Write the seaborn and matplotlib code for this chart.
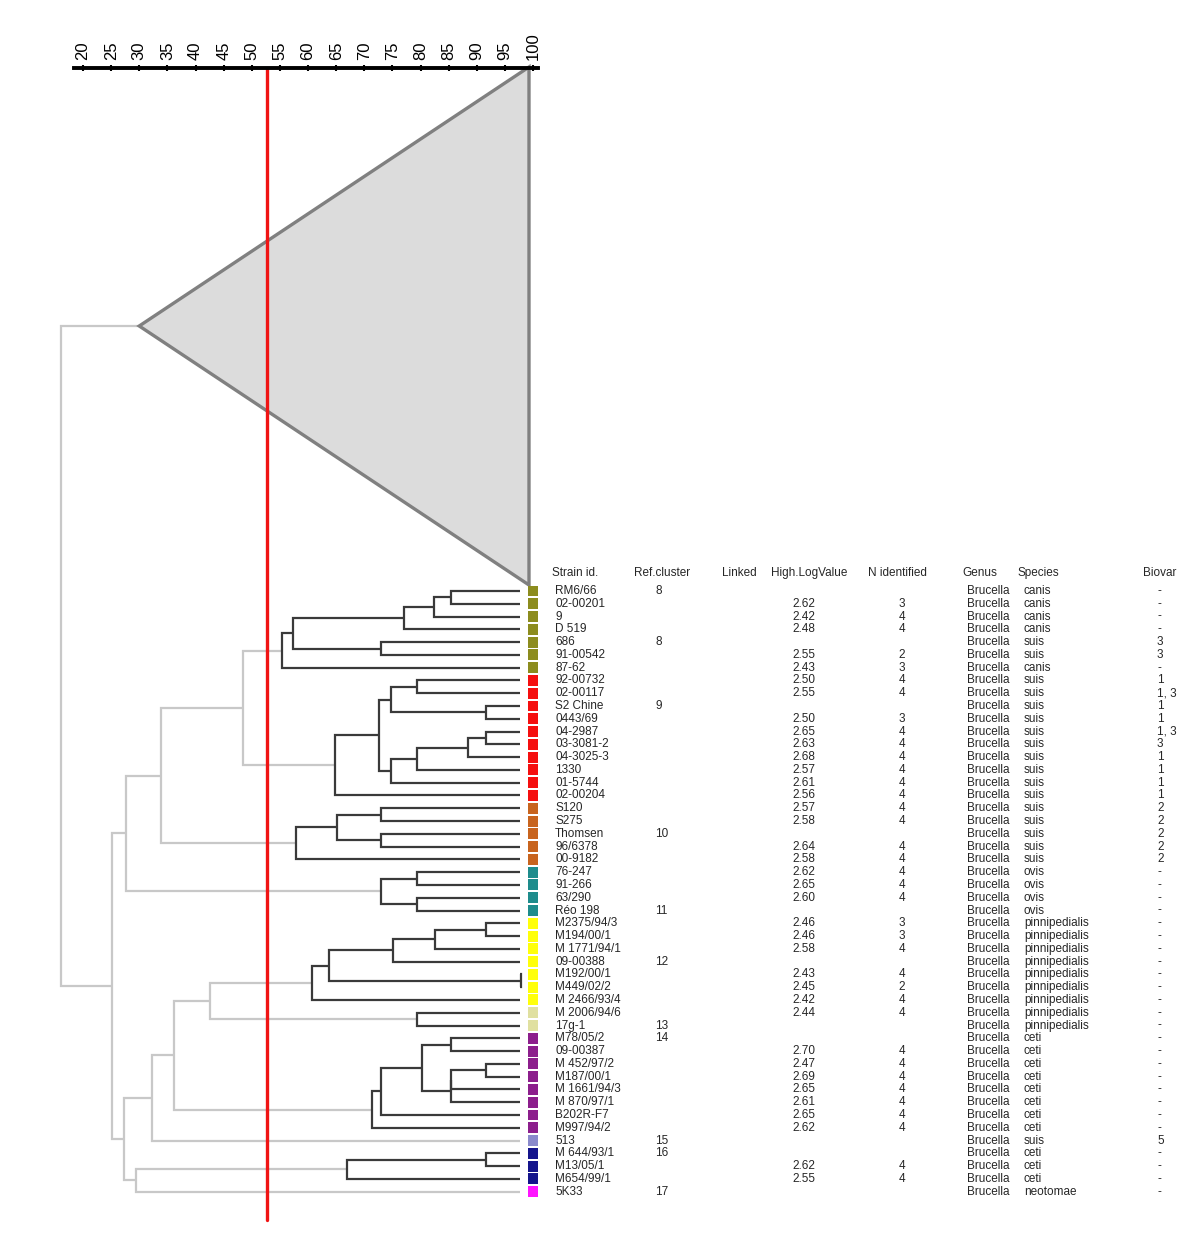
import matplotlib
matplotlib.use("Agg")
import matplotlib.pyplot as plt
import numpy as np
import pandas as pd
import seaborn as sns

# ---------------- data ----------------
strain_ids = ["RM6/66", "02-00201", "9", "D 519", "686", "91-00542", "87-62",
              "92-00732", "02-00117", "S2 Chine", "0443/69", "04-2987", "03-3081-2",
              "04-3025-3", "1330", "01-5744", "02-00204", "S120", "S275", "Thomsen",
              "96/6378", "00-9182", "76-247", "91-266", "63/290", "Réo 198",
              "M2375/94/3", "M194/00/1", "M 1771/94/1", "09-00388", "M192/00/1",
              "M449/02/2", "M 2466/93/4", "M 2006/94/6", "17g-1", "M78/05/2",
              "09-00387", "M 452/97/2", "M187/00/1", "M 1661/94/3", "M 870/97/1",
              "B202R-F7", "M997/94/2", "513", "M 644/93/1", "M13/05/1", "M654/99/1",
              "5K33"]
ref_cluster = ["8", "", "", "", "8", "", "", "", "", "9", "", "", "", "", "", "", "",
               "", "", "10", "", "", "", "", "", "11", "", "", "", "12", "", "", "",
               "", "13", "14", "", "", "", "", "", "", "", "15", "16", "", "", "17"]
high_log = ["", "2.62", "2.42", "2.48", "", "2.55", "2.43", "2.50", "2.55", "",
            "2.50", "2.65", "2.63", "2.68", "2.57", "2.61", "2.56", "2.57", "2.58", "",
            "2.64", "2.58", "2.62", "2.65", "2.60", "", "2.46", "2.46", "2.58", "",
            "2.43", "2.45", "2.42", "2.44", "", "", "2.70", "2.47", "2.69", "2.65",
            "2.61", "2.65", "2.62", "", "", "2.62", "2.55", ""]
n_identified = ["", "3", "4", "4", "", "2", "3", "4", "4", "", "3", "4", "4", "4",
                "4", "4", "4", "4", "4", "", "4", "4", "4", "4", "4", "", "3", "3",
                "4", "", "4", "2", "4", "4", "", "", "4", "4", "4", "4", "4", "4",
                "4", "", "", "4", "4", ""]
genus = ["Brucella"] * 48
species = (["canis"] * 4 + ["suis"] * 2 + ["canis"] + ["suis"] * 15 + ["ovis"] * 4
           + ["pinnipedialis"] * 9 + ["ceti"] * 8 + ["suis"] + ["ceti"] * 3 + ["neotomae"])
biovar = ["-", "-", "-", "-", "3", "3", "-", "1", "1, 3", "1", "1", "1, 3", "3", "1",
          "1", "1", "1", "2", "2", "2", "2", "2"] + ["-"] * 21 + ["5", "-", "-", "-", "-"]
leaf_group = (["g8"] * 7 + ["g9"] * 10 + ["g10"] * 5 + ["g11"] * 4 + ["g12"] * 7
              + ["g13"] * 2 + ["g14"] * 8 + ["g15"] + ["g16"] * 3 + ["g17"])
group_colors = {"g8": "#8C8C1E", "g9": "#F50F0F", "g10": "#C8641E", "g11": "#1E8C8C",
                "g12": "#FFFF0A", "g13": "#E0E0A0", "g14": "#8C1E8C", "g15": "#8A8ACC",
                "g16": "#14148C", "g17": "#FF14FF"}
headers = ["Strain id.", "Ref.cluster", "Linked", "High.LogValue", "N identified",
           "Genus", "Species", "Biovar"]

# dendrogram merges (leaf indices 0..47, internal node k -> 48 + k), similarity (%)
merge_left = [0, 48, 49, 4, 50, 52, 7, 9, 54, 11, 57, 58, 59, 56, 61, 53, 17, 19, 64, 66,
              63, 22, 24, 69, 68, 26, 73, 74, 30, 75, 77, 33, 78, 35, 37, 82, 83, 81, 85,
              86, 80, 88, 44, 90, 91, 89, 72]
merge_right = [1, 2, 3, 5, 51, 6, 8, 10, 55, 12, 13, 14, 15, 60, 16, 62, 18, 20, 65, 21,
               67, 23, 25, 70, 71, 27, 28, 29, 31, 76, 32, 34, 79, 36, 38, 39, 40, 84, 41,
               42, 87, 43, 45, 46, 47, 92, 93]
merge_sim = [85.5, 82.4, 77.0, 73.0, 57.4, 55.3, 79.3, 91.7, 74.8, 91.7, 88.5, 79.3, 74.8,
             72.6, 64.8, 48.4, 73.0, 73.0, 65.2, 57.9, 33.9, 79.3, 79.3, 73.0, 27.6, 91.7,
             82.5, 75.1, 97.8, 63.7, 60.7, 79.3, 42.6, 85.5, 91.7, 85.5, 85.5, 80.3, 73.0,
             71.3, 36.2, 32.2, 91.7, 67.0, 29.4, 27.3, 25.1]
collapsed_sim = 30.0
root_sim = 16.0
cut_sim = 52.7
scale_ticks = list(range(20, 101, 5))

# ---------------- layout ----------------
W, H = 1200, 1236
PX_PER_UNIT = 5.625
X0_PX = 83          # pixel of similarity 20
ROW1_PX = 591       # pixel of row 1
ROW_PX = 12.78


def px_x(p):
    return 20 + (p - X0_PX) / PX_PER_UNIT


def px_y(p):
    return 1 + (p - ROW1_PX) / ROW_PX


sns.set_style("white")
plt.rcParams["font.family"] = ["Liberation Sans", "DejaVu Sans"]

fig = plt.figure(figsize=(W / 100, H / 100), dpi=100)
ax = fig.add_axes([0, 0, 1, 1])
ax.set_xlim(px_x(0), px_x(W))
ax.set_ylim(px_y(H), px_y(0))
ax.axis("off")

DARK = "#3A3A3A"
GREY = "#C8C8C8"
leaf_x = 97.7
n = len(strain_ids)
ypos = {i: i + 1 for i in range(n)}
xpos = {i: leaf_x for i in range(n)}
for k, (a, b, s) in enumerate(zip(merge_left, merge_right, merge_sim)):
    node = n + k
    ypos[node] = (ypos[a] + ypos[b]) / 2
    xpos[node] = s
    dark = s > cut_sim
    ax.plot([xpos[a], s, s, xpos[b]], [ypos[a], ypos[a], ypos[b], ypos[b]],
            color=DARK if dark else GREY, lw=1.6, zorder=3 if dark else 2,
            solid_joinstyle="miter", solid_capstyle="butt")
last = n + len(merge_sim) - 1

# collapsed cluster (triangle)
tri_top, tri_bot = px_y(67), px_y(585)
tri_apex = (tri_top + tri_bot) / 2
tri_right = px_x(529)
ax.fill([collapsed_sim, tri_right, tri_right], [tri_apex, tri_top, tri_bot],
        facecolor="#DCDCDC", edgecolor="#808080", lw=2.4, joinstyle="miter", zorder=2)
ax.plot([collapsed_sim, root_sim, root_sim, xpos[last]],
        [tri_apex, tri_apex, ypos[last], ypos[last]],
        color=GREY, lw=1.6, zorder=1, solid_joinstyle="miter")

# colored squares
sq = pd.DataFrame({"x": [100.0] * n, "y": [i + 1 for i in range(n)], "g": leaf_group})
sns.scatterplot(data=sq, x="x", y="y", hue="g", palette=group_colors, marker="s",
                s=62, linewidth=0, legend=False, ax=ax, zorder=4)

# cut-off line
ax.plot([cut_sim, cut_sim], [px_y(68), px_y(1220)], color="#F01414", lw=2.4, zorder=5)

# table
FS = 8.5
head_px = [552, 634, 722, 771, 868, 962, 1018, 1143]
for h, p in zip(headers, head_px):
    ax.text(px_x(p), px_y(573), h, fontsize=FS, ha="left", va="center")
cols = [(strain_ids, 555, "left"), (ref_cluster, 655, "left"), (high_log, 792, "left"),
        (n_identified, 902, "center"), (genus, 967, "left"), (species, 1024, "left"),
        (biovar, 1157, "left")]
for vals, p, ha in cols:
    for i, v in enumerate(vals):
        if v:
            ax.text(px_x(p), i + 1, v, fontsize=FS, ha=ha, va="center")

# similarity scale
sax = fig.add_axes([74 / W, 1 - 68 / H, 464 / W, 1e-5])
sax.set_xlim(px_x(74), px_x(538))
sax.set_ylim(0, 1)
for sp in ["left", "right", "bottom"]:
    sax.spines[sp].set_visible(False)
sax.spines["top"].set_linewidth(2.8)
sax.spines["top"].set_color("black")
sax.xaxis.set_ticks_position("top")
sax.set_xticks(scale_ticks)
sax.set_xticklabels([str(t) for t in scale_ticks], rotation=90, fontsize=12)
sax.tick_params(axis="x", direction="inout", length=5, width=1.5, pad=3, colors="black")
sax.set_yticks([])
sax.patch.set_visible(False)

fig.savefig("out.png", dpi=100)
